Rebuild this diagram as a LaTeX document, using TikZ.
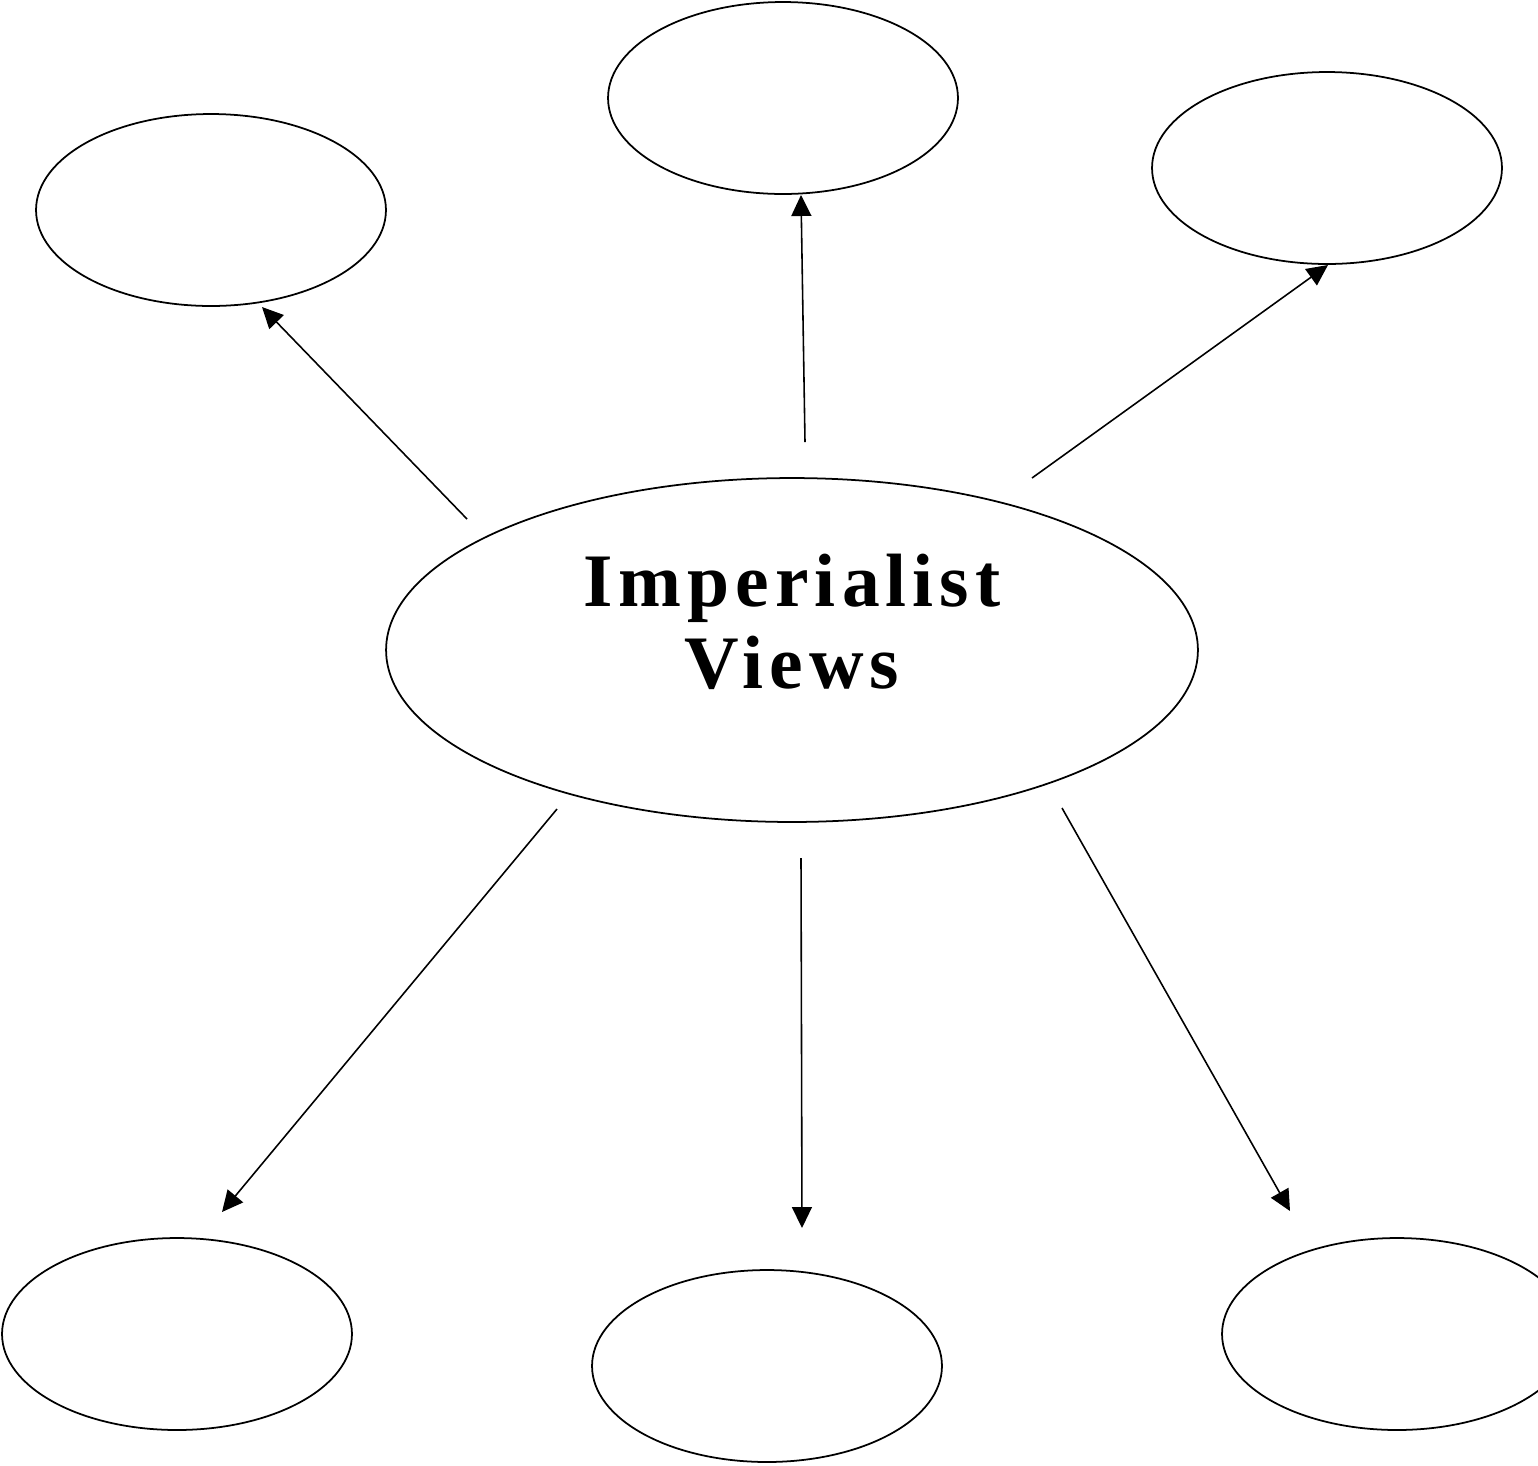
\documentclass[tikz,border=0pt]{standalone}
\usepackage{fontspec}
\setmainfont{Liberation Serif}
\newfontfamily\titlefont[LetterSpace=8]{Liberation Serif}
\usetikzlibrary{arrows.meta,shapes.geometric}

\begin{document}
\begin{tikzpicture}[
  x=0.02cm, y=-0.02cm,
  bubble/.style={draw, ellipse, line width=1pt, inner sep=0pt,
                 minimum width=7cm, minimum height=3.84cm},
  hubbubble/.style={bubble, minimum width=16.24cm, minimum height=6.88cm},
  arrow/.style={-{Triangle[length=0.42cm, width=0.4cm]}, line width=0.9pt}
]
\useasboundingbox (0,0) rectangle (1538,1465);

% central idea
\node[hubbubble] (hub) at (792,650) {};
\node[align=center, font=\titlefont\bfseries\fontsize{43}{47}\selectfont]
  (title) at (792,622) {Imperialist\\Views};

% outer bubbles
\node[bubble] (topleft) at (211,210) {};
\node[bubble] (topmid) at (783,98) {};
\node[bubble] (topright) at (1327,168) {};
\node[bubble] (botleft) at (177,1334) {};
\node[bubble] (botmid) at (767,1366) {};
\node[bubble] (botright) at (1397,1334) {};

% arrow ends
\coordinate (fromtl) at (467,519);
\coordinate (totl) at (262,307);
\coordinate (fromtm) at (805,442);
\coordinate (totm) at (801,195);
\coordinate (fromtr) at (1032,478);
\coordinate (totr) at (1328,265);
\coordinate (frombl) at (557,809);
\coordinate (tobl) at (222,1212);
\coordinate (frombm) at (801,858);
\coordinate (tobm) at (802,1228);
\coordinate (frombr) at (1062,808);
\coordinate (tobr) at (1290,1211);

\draw[arrow] (fromtl) -- (totl);
\draw[arrow] (fromtm) -- (totm);
\draw[arrow] (fromtr) -- (totr);
\draw[arrow] (frombl) -- (tobl);
\draw[arrow] (frombm) -- (tobm);
\draw[arrow] (frombr) -- (tobr);
\end{tikzpicture}
\end{document}
